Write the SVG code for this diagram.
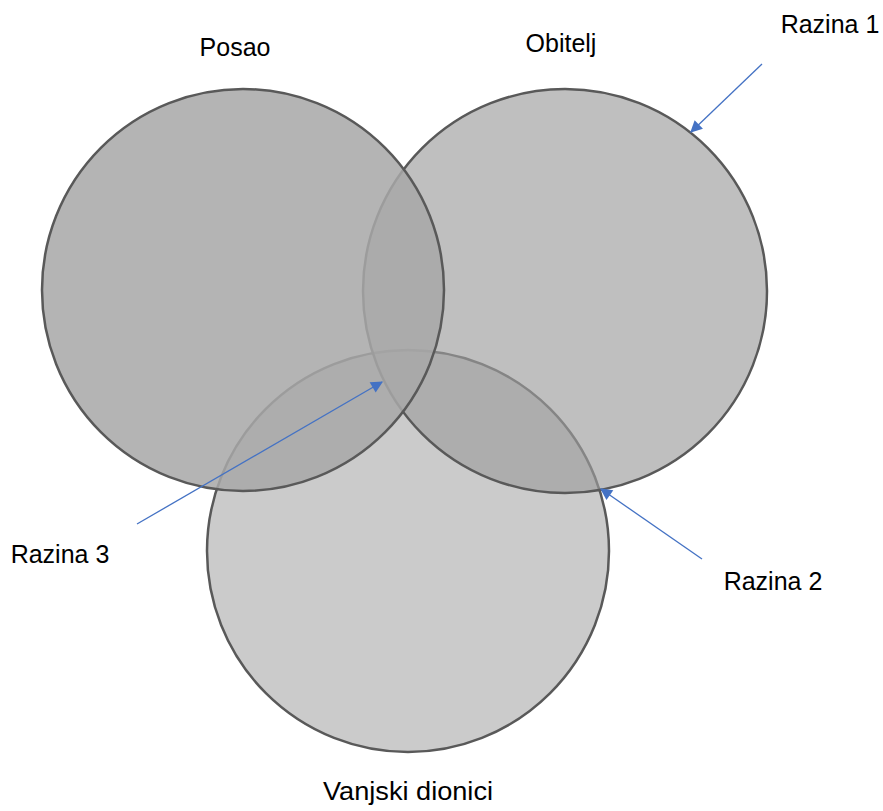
<svg xmlns="http://www.w3.org/2000/svg" width="883" height="811" viewBox="0 0 883 811">
  <style>
    .ring { stroke: #595959; stroke-width: 2.5; }
    .lbl { font-family: "Liberation Sans", Arial, sans-serif; font-size: 25px; fill: #000; text-anchor: middle; }
    .ptr { stroke: #4472c4; stroke-width: 1.3; fill: none; marker-end: url(#tip); }
  </style>
  <defs>
    <marker id="tip" viewBox="0 0 10 10" refX="9" refY="5" markerWidth="15" markerHeight="12" markerUnits="userSpaceOnUse" orient="auto">
      <path d="M0,0 L10,5 L0,10 Z" fill="#4472c4"/>
    </marker>
  </defs>
  <rect width="883" height="811" fill="#fff"/>

  <!-- circles: bottom first, then right, left on top (translucent) -->
  <g id="vanjski">
    <circle class="ring" cx="408" cy="551" r="201" fill="#cbcbcb"/>
  </g>
  <g id="obitelj">
    <circle class="ring" cx="565" cy="291" r="202" fill="#9d9d9d" fill-opacity="0.65"/>
  </g>
  <g id="posao">
    <circle class="ring" cx="243" cy="290" r="201" fill="#a8a8a8" fill-opacity="0.86"/>
  </g>

  <g id="labels">
    <text class="lbl" x="235" y="56">Posao</text>
    <text class="lbl" x="561" y="52">Obitelj</text>
    <text class="lbl" x="830" y="33">Razina 1</text>
    <text class="lbl" x="60" y="563">Razina 3</text>
    <text class="lbl" x="773" y="590">Razina 2</text>
    <text class="lbl" x="408" y="800" textLength="170" lengthAdjust="spacingAndGlyphs">Vanjski dionici</text>
  </g>

  <g id="connectors">
    <line class="ptr" x1="762" y1="64" x2="691" y2="132"/>
    <line class="ptr" x1="702" y1="559" x2="601" y2="489"/>
    <line class="ptr" x1="137" y1="524" x2="382" y2="382"/>
  </g>
</svg>
